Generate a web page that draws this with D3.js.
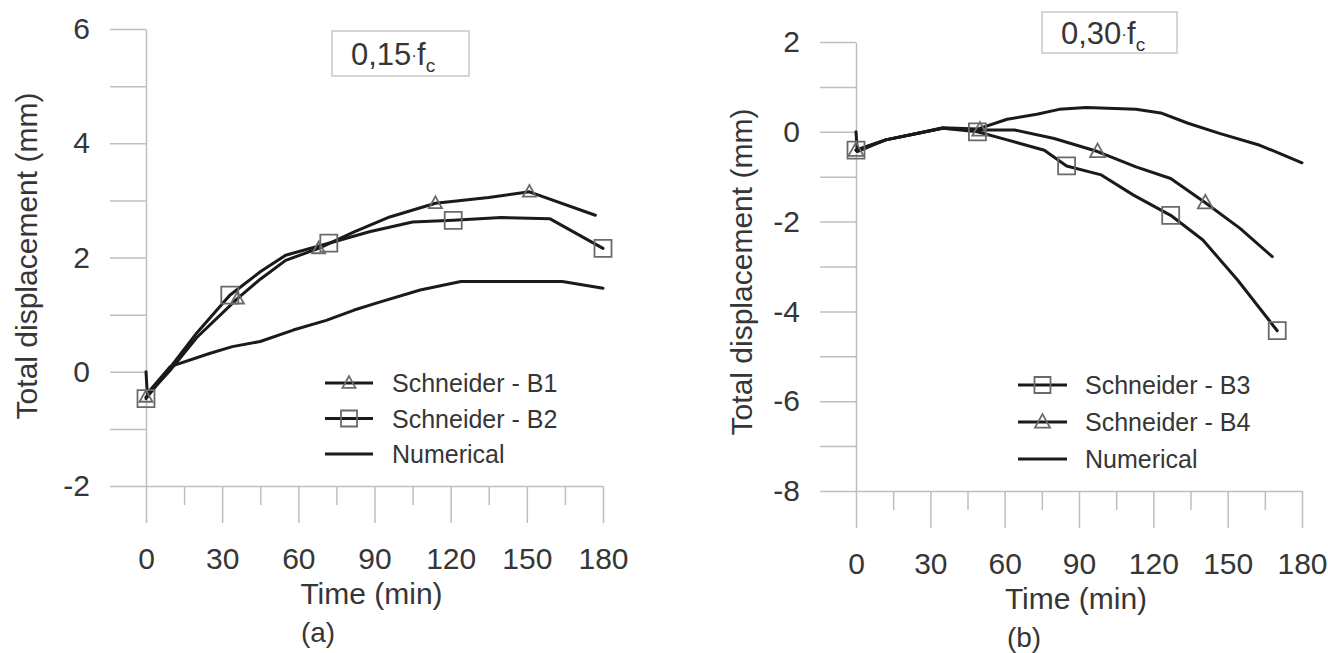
<!DOCTYPE html>
<html>
<head>
<meta charset="utf-8">
<script src="https://cdn.jsdelivr.net/npm/d3@7"></script>
<style>
  html, body { margin: 0; padding: 0; background: #fff; }
  svg { display: block; font-family: "Liberation Sans", Arial, sans-serif; }
</style>
</head>
<body>
<svg id="chart" width="1328" height="653"></svg>
<script>
// ---- Shared axis values ----
const timeMajor = [0, 30, 60, 90, 120, 150, 180];
const timeMinor = [15, 45, 75, 105, 135, 165];

// ---- Panel (a): 0,15·fc ----
const aDispTicks = [-2, -1, 0, 1, 2, 3, 4, 5, 6];
const aDispLabels = [-2, 0, 2, 4, 6];

const b1Time = [0, 10, 20, 36, 45, 55, 68, 82, 96, 114, 135, 151, 177];
const b1Disp = [-0.44, 0.05, 0.6, 1.28, 1.62, 1.95, 2.16, 2.45, 2.71, 2.95, 3.05, 3.15, 2.74];
const b1Marks = [0, 36, 68, 114, 151];

const b2Time = [0, 10, 20, 33, 45, 55, 72, 88, 105, 121, 140, 159, 180];
const b2Disp = [-0.47, 0.1, 0.68, 1.34, 1.75, 2.04, 2.25, 2.45, 2.62, 2.65, 2.7, 2.68, 2.16];
const b2Marks = [0, 33, 72, 121, 180];

const numATime = [0, 0.5, 9.5, 25, 34, 45, 58, 71, 82, 92, 108, 124, 147, 164, 180];
const numADisp = [0, -0.38, 0.09, 0.32, 0.44, 0.53, 0.73, 0.9, 1.08, 1.22, 1.43, 1.58, 1.58, 1.58, 1.46];

// ---- Panel (b): 0,30·fc ----
const bDispTicks = [-8, -7, -6, -5, -4, -3, -2, -1, 0, 1, 2];
const bDispLabels = [-8, -6, -4, -2, 0, 2];

const b3Time = [0, 12, 26, 35, 49, 61, 76, 85, 99, 112, 127, 140, 154, 170];
const b3Disp = [-0.41, -0.18, -0.02, 0.08, 0.0, -0.18, -0.41, -0.76, -0.96, -1.41, -1.86, -2.41, -3.3, -4.43];
const b3Marks = [0, 49, 85, 127, 170];

const b4Time = [0, 12, 26, 35, 50, 64, 80, 97.5, 113, 127, 141, 155, 168];
const b4Disp = [-0.41, -0.18, -0.02, 0.08, 0.04, 0.04, -0.15, -0.44, -0.78, -1.04, -1.58, -2.15, -2.78];
const b4Marks = [0, 50, 97.5, 141];

const numBTime = [0, 0.5, 12, 26, 35, 49, 61, 73, 82, 93, 113, 123, 134, 147, 163, 180];
const numBDisp = [0, -0.44, -0.18, -0.02, 0.09, 0.06, 0.28, 0.39, 0.5, 0.54, 0.5, 0.42, 0.19, -0.04, -0.3, -0.69];

// ---- Style ----
const axisColor = "#bfbfbf";
const textColor = "#363636";
const lineColor = "#1a1a1a";
const markColor = "#6a6a6a";

const svg = d3.select("#chart");

const zip = (t, v) => t.map((d, i) => [d, v[i]]);

function markerPath(kind, size) {
  const h = size / 2;
  if (kind === "square") return `M${-h},${-h}H${h}V${h}H${-h}Z`;
  return `M0,${-h * 1.05}L${h},${h * 0.75}L${-h},${h * 0.75}Z`;
}

function drawPanel(p) {
  const g = svg.append("g");
  const x = d3.scaleLinear().domain([0, 180]).range([p.x0, p.x1]);
  const y = d3.scaleLinear().domain(p.yDomain).range([p.yBottom, p.yTop]);

  // y axis: every unit ticked, even values labelled
  const yAxis = d3.axisLeft(y)
    .tickValues(p.yTicks)
    .tickSize(36)
    .tickSizeOuter(0)
    .tickPadding(20)
    .tickFormat(d => p.yLabels.includes(d) ? String(d) : "");
  const yg = g.append("g").attr("transform", `translate(${p.x0},0)`).call(yAxis);

  // x axis: labelled majors, short minors
  const xAxis = d3.axisBottom(x)
    .tickValues(timeMajor)
    .tickSize(37)
    .tickSizeOuter(0)
    .tickPadding(25);
  const xg = g.append("g").attr("transform", `translate(0,${p.yBottom})`).call(xAxis);
  const xMinor = d3.axisBottom(x)
    .tickValues(timeMinor)
    .tickSize(19)
    .tickSizeOuter(0)
    .tickFormat("");
  const xmg = g.append("g").attr("transform", `translate(0,${p.yBottom})`).call(xMinor);
  xmg.select(".domain").remove();

  [yg, xg, xmg].forEach(a => {
    a.selectAll("path.domain").attr("stroke", axisColor).attr("stroke-width", 1.5);
    a.selectAll(".tick line").attr("stroke", axisColor).attr("stroke-width", 1.5);
    a.selectAll(".tick text")
      .attr("fill", textColor)
      .style("font-size", "30px")
      .style("font-family", "'Liberation Sans', Arial, sans-serif");
  });

  // axis titles and panel tag
  g.append("text")
    .attr("transform", `translate(${p.yTitleX},${p.yTitleY}) rotate(-90)`)
    .attr("text-anchor", "middle")
    .attr("fill", textColor)
    .style("font-size", "30px")
    .text("Total displacement (mm)");
  g.append("text")
    .attr("x", (p.x0 + p.x1) / 2 - 3)
    .attr("y", p.yBottom + 118)
    .attr("text-anchor", "middle")
    .attr("fill", textColor)
    .style("font-size", "30px")
    .text("Time (min)");
  g.append("text")
    .attr("x", p.tagX)
    .attr("y", p.yBottom + 156)
    .attr("text-anchor", "middle")
    .attr("fill", textColor)
    .style("font-size", "28px")
    .text(p.tag);

  // load-level box
  g.append("rect")
    .attr("x", p.box.x).attr("y", p.box.y)
    .attr("width", p.box.w).attr("height", p.box.h)
    .attr("fill", "#fff")
    .attr("stroke", "#c8c8c8")
    .attr("stroke-width", 1.5);
  const bt = g.append("text")
    .attr("x", p.box.x + 19)
    .attr("y", p.box.y + p.box.h / 2 + 11)
    .attr("fill", textColor)
    .style("font-size", "31px");
  bt.append("tspan").text(p.level);
  bt.append("tspan").style("font-size", "17px").attr("dy", -4).text("·");
  bt.append("tspan").attr("dy", 4).text("f");
  bt.append("tspan").style("font-size", "19px").attr("dy", 7).text("c");

  // curves
  const line = d3.line().x(d => x(d[0])).y(d => y(d[1]));
  p.series.forEach(s => {
    g.append("path")
      .datum(zip(s.time, s.disp))
      .attr("d", line)
      .attr("fill", "none")
      .attr("stroke", lineColor)
      .attr("stroke-width", 3)
      .attr("stroke-linejoin", "round")
      .attr("stroke-linecap", "round");
  });
  p.series.forEach(s => {
    if (!s.marks) return;
    const pts = s.marks.map(t => [t, s.disp[s.time.indexOf(t)]]);
    g.selectAll(null).data(pts).enter().append("path")
      .attr("transform", d => `translate(${x(d[0])},${y(d[1])})`)
      .attr("d", markerPath(s.marker, s.marker === "square" ? 17 : p.triSize))
      .attr("fill", "none")
      .attr("stroke", markColor)
      .attr("stroke-width", 1.8);
  });

  // legend
  p.legend.forEach((item, i) => {
    const ly = p.leg.y + i * p.leg.dy;
    g.append("line")
      .attr("x1", p.leg.x1).attr("x2", p.leg.x2)
      .attr("y1", ly).attr("y2", ly)
      .attr("stroke", lineColor).attr("stroke-width", 3);
    if (item.marker) {
      g.append("path")
        .attr("transform", `translate(${(p.leg.x1 + p.leg.x2) / 2},${ly})`)
        .attr("d", markerPath(item.marker, item.marker === "square" ? 16 : p.triSize))
        .attr("fill", "none")
        .attr("stroke", markColor)
        .attr("stroke-width", 1.8);
    }
    g.append("text")
      .attr("x", p.leg.tx)
      .attr("y", ly)
      .attr("dy", "0.36em")
      .attr("fill", textColor)
      .style("font-size", "25px")
      .text(item.label);
  });
}

drawPanel({
  x0: 146, x1: 603, yTop: 29, yBottom: 486,
  yDomain: [-2, 6], yTicks: aDispTicks, yLabels: aDispLabels,
  yTitleX: 37, yTitleY: 256, tagX: 318, tag: "(a)",
  box: { x: 332, y: 31, w: 137, h: 45 }, level: "0,15",
  triSize: 13,
  series: [
    { time: b1Time, disp: b1Disp, marks: b1Marks, marker: "triangle" },
    { time: b2Time, disp: b2Disp, marks: b2Marks, marker: "square" },
    { time: numATime, disp: numADisp }
  ],
  leg: { x1: 325, x2: 373, tx: 392, y: 383, dy: 35.5 },
  legend: [
    { label: "Schneider - B1", marker: "triangle" },
    { label: "Schneider - B2", marker: "square" },
    { label: "Numerical" }
  ]
});

drawPanel({
  x0: 856, x1: 1302, yTop: 42, yBottom: 491,
  yDomain: [-8, 2], yTicks: bDispTicks, yLabels: bDispLabels,
  yTitleX: 752, yTitleY: 272, tagX: 1024, tag: "(b)",
  box: { x: 1042, y: 12, w: 135, h: 41 }, level: "0,30",
  triSize: 15,
  series: [
    { time: b3Time, disp: b3Disp, marks: b3Marks, marker: "square" },
    { time: b4Time, disp: b4Disp, marks: b4Marks, marker: "triangle" },
    { time: numBTime, disp: numBDisp }
  ],
  leg: { x1: 1018, x2: 1067, tx: 1085, y: 385, dy: 37 },
  legend: [
    { label: "Schneider - B3", marker: "square" },
    { label: "Schneider - B4", marker: "triangle" },
    { label: "Numerical" }
  ]
});
</script>
</body>
</html>
